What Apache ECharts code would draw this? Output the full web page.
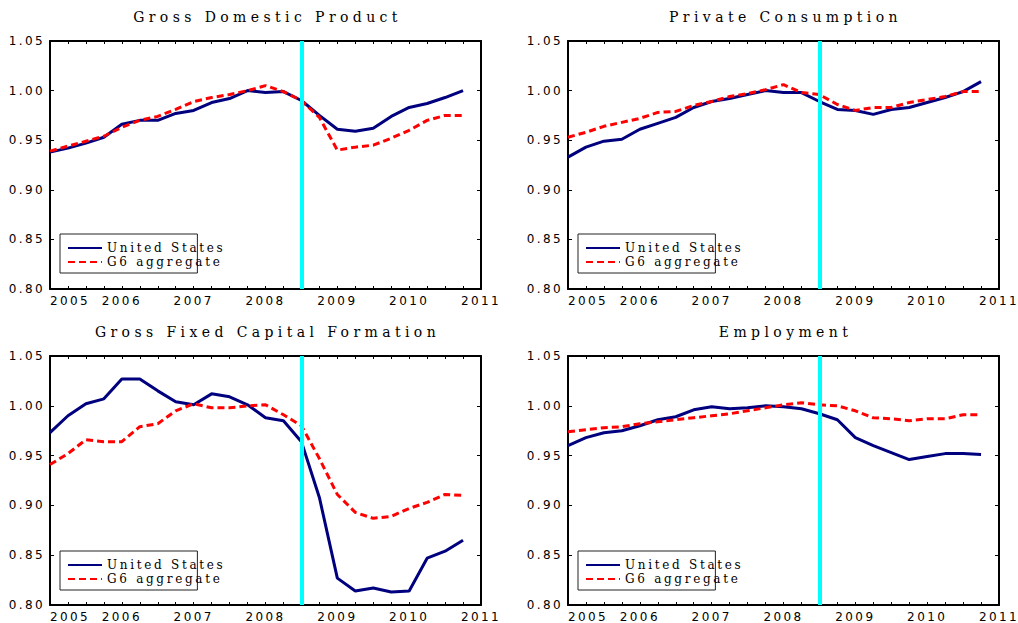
<!DOCTYPE html>
<html>
<head>
<meta charset="utf-8">
<script src="https://cdn.jsdelivr.net/npm/echarts@6.0.0/dist/echarts.min.js"></script>
<style>
	html, body { margin: 0; padding: 0; background: #fff; }
	#chart { width: 1018px; height: 623px; }
</style>
</head>
<body>
<div id="chart"></div>
<script>
// quarterly points, 2005Q1 .. 2010Q4 (plotted at start of quarter)
var quarters = [2005.00, 2005.25, 2005.50, 2005.75, 2006.00, 2006.25, 2006.50, 2006.75,
	2007.00, 2007.25, 2007.50, 2007.75, 2008.00, 2008.25, 2008.50, 2008.75,
	2009.00, 2009.25, 2009.50, 2009.75, 2010.00, 2010.25, 2010.50, 2010.75];

var panelTitles = ['Gross Domestic Product', 'Private Consumption', 'Gross Fixed Capital Formation', 'Employment'];
var seriesNames = ['United States', 'G6 aggregate'];
var yearTicks = [2005, 2006, 2007, 2008, 2009, 2010, 2011];
var valueTicks = [0.80, 0.85, 0.90, 0.95, 1.00, 1.05];
var crisisDate = 2008.5;

var gdpUS = [0.938, 0.942, 0.947, 0.953, 0.966, 0.970, 0.970, 0.977, 0.980, 0.988, 0.992, 1.000,
	0.998, 0.999, 0.990, 0.975, 0.961, 0.959, 0.962, 0.974, 0.983, 0.987, 0.993, 1.000];
var gdpG6 = [0.939, 0.944, 0.949, 0.954, 0.963, 0.970, 0.974, 0.981, 0.989, 0.993, 0.996, 1.000,
	1.005, 0.999, 0.990, 0.973, 0.940, 0.943, 0.945, 0.952, 0.960, 0.970, 0.975, 0.975];

var pcUS = [0.933, 0.943, 0.949, 0.951, 0.961, 0.967, 0.973, 0.983, 0.989, 0.992, 0.996, 1.000,
	0.998, 0.998, 0.989, 0.981, 0.980, 0.976, 0.981, 0.983, 0.988, 0.993, 0.999, 1.009];
var pcG6 = [0.953, 0.958, 0.964, 0.968, 0.972, 0.978, 0.979, 0.985, 0.989, 0.994, 0.997, 1.001,
	1.006, 0.998, 0.996, 0.986, 0.980, 0.983, 0.983, 0.988, 0.991, 0.994, 0.999, 0.999];

var gfcfUS = [0.973, 0.990, 1.002, 1.007, 1.027, 1.027, 1.015, 1.004, 1.001, 1.012, 1.009, 1.001,
	0.988, 0.985, 0.964, 0.908, 0.827, 0.814, 0.817, 0.813, 0.814, 0.847, 0.854, 0.865];
var gfcfG6 = [0.941, 0.952, 0.966, 0.964, 0.964, 0.979, 0.982, 0.995, 1.002, 0.998, 0.998, 1.000,
	1.001, 0.991, 0.980, 0.947, 0.911, 0.893, 0.887, 0.889, 0.897, 0.903, 0.911, 0.910];

var empUS = [0.960, 0.968, 0.973, 0.975, 0.980, 0.986, 0.989, 0.996, 0.999, 0.997, 0.998, 1.000,
	0.999, 0.997, 0.992, 0.986, 0.968, 0.960, 0.953, 0.946, 0.949, 0.952, 0.952, 0.951];
var empG6 = [0.974, 0.976, 0.978, 0.979, 0.982, 0.984, 0.986, 0.988, 0.990, 0.992, 0.995, 0.998,
	1.001, 1.003, 1.001, 1.000, 0.995, 0.988, 0.987, 0.985, 0.987, 0.987, 0.991, 0.991];

var panelData = [[gdpUS, gdpG6], [pcUS, pcG6], [gfcfUS, gfcfG6], [empUS, empG6]];

// grid boxes (px)
var grids = [
	{left: 50, top: 41, width: 431, height: 248},
	{left: 568, top: 41, width: 431, height: 248},
	{left: 50, top: 356, width: 431, height: 250},
	{left: 568, top: 356, width: 431, height: 250}
];

var tickFont = 'DejaVu Sans';
var textFont = 'DejaVu Serif';

function pairs(vals){
	var out = [];
	for (var i = 0; i < vals.length; i++) {
		out.push([quarters[i], vals[i]]);
	}
	return out;
}

var option = {
	animation: false,
	backgroundColor: '#fff',
	title: [],
	legend: [],
	grid: [],
	xAxis: [],
	yAxis: [],
	series: []
};

grids.forEach(function(g, idx){
	option.grid.push({left: g.left, top: g.top, width: g.width, height: g.height, containLabel: false});

	option.title.push({
		text: panelTitles[idx],
		left: g.left + g.width / 2 + 2,
		top: g.top - 31,
		textAlign: 'center',
		padding: 0,
		textStyle: {fontFamily: textFont, fontSize: 14, fontWeight: 'normal', color: '#000'}
	});

	option.legend.push({
		data: seriesNames,
		orient: 'vertical',
		left: g.left + 10,
		top: g.top + g.height - 55,
		padding: [8, 7, 5, 7],
		itemGap: 2,
		itemWidth: 34,
		itemHeight: 13,
		itemTextGap: 7,
		borderColor: '#222',
		borderWidth: 1,
		selectedMode: false,
		itemStyle: {opacity: 0},
		textStyle: {fontFamily: textFont, fontSize: 12, color: '#000', width: 118}
	});

	var axisLine = {show: true, onZero: false, lineStyle: {color: '#000', width: 2}};
	var tick = {show: true, inside: true, length: 4, lineStyle: {color: '#000', width: 1}};

	// bottom + top x axes
	option.xAxis.push({
		type: 'value', gridIndex: idx, position: 'bottom',
		min: yearTicks[0], max: yearTicks[yearTicks.length - 1], interval: 1,
		axisLine: axisLine,
		axisTick: {show: true, inside: true, length: 3, lineStyle: {color: '#000'}},
		minorTick: {show: true, splitNumber: 4, length: 3, lineStyle: {color: '#000'}},
		splitLine: {show: false},
		axisLabel: {
			margin: 6, color: '#000', fontFamily: tickFont, fontSize: 12,
			alignMinLabel: 'left',
			formatter: function(v){ return String(v); }
		}
	});
	option.xAxis.push({
		type: 'value', gridIndex: idx, position: 'top',
		min: yearTicks[0], max: yearTicks[yearTicks.length - 1], interval: 1,
		axisLine: axisLine,
		axisTick: {show: true, inside: true, length: 3, lineStyle: {color: '#000'}},
		minorTick: {show: true, splitNumber: 4, length: 3, lineStyle: {color: '#000'}},
		splitLine: {show: false},
		axisLabel: {show: false}
	});

	// left + right y axes
	option.yAxis.push({
		type: 'value', gridIndex: idx, position: 'left',
		min: valueTicks[0], max: valueTicks[valueTicks.length - 1], interval: 0.05,
		axisLine: axisLine,
		axisTick: tick,
		splitLine: {show: false},
		axisLabel: {
			margin: 5, color: '#000', fontFamily: tickFont, fontSize: 12,
			formatter: function(v){ return v.toFixed(2); }
		}
	});
	option.yAxis.push({
		type: 'value', gridIndex: idx, position: 'right',
		min: valueTicks[0], max: valueTicks[valueTicks.length - 1], interval: 0.05,
		axisLine: axisLine,
		axisTick: tick,
		splitLine: {show: false},
		axisLabel: {show: false}
	});

	option.series.push({
		name: seriesNames[0],
		type: 'line',
		xAxisIndex: idx * 2,
		yAxisIndex: idx * 2,
		data: pairs(panelData[idx][0]),
		symbol: 'none',
		z: 3,
		lineStyle: {color: '#00007f', width: 3},
		itemStyle: {color: '#00007f'},
		emphasis: {disabled: true}
	});
	option.series.push({
		name: seriesNames[1],
		type: 'line',
		xAxisIndex: idx * 2,
		yAxisIndex: idx * 2,
		data: pairs(panelData[idx][1]),
		symbol: 'none',
		z: 4,
		lineStyle: {color: '#ff0000', width: 3, type: [7, 4]},
		itemStyle: {color: '#ff0000'},
		emphasis: {disabled: true},
		markLine: {
			silent: true,
			symbol: ['none', 'none'],
			label: {show: false},
			lineStyle: {color: '#00ffff', width: 4, type: 'solid'},
			emphasis: {disabled: true},
			data: [{xAxis: crisisDate}]
		}
	});
});

var chart = echarts.init(document.getElementById('chart'), null, {renderer: 'svg'});

// old-style plot text is widely spaced; zrender has no letterSpacing so set it on the svg nodes
function spaceTexts(){
	var nodes = document.querySelectorAll('#chart text');
	for (var i = 0; i < nodes.length; i++) {
		var cs = window.getComputedStyle(nodes[i]);
		var fs = parseFloat(cs.fontSize);
		var serif = cs.fontFamily.indexOf('Serif') >= 0;
		var ls = 2.4;
		if (serif) {
			ls = fs >= 14 ? 4.4 : 2.7;
		}
		nodes[i].style.letterSpacing = ls + 'px';
	}
}
chart.on('finished', spaceTexts);
chart.setOption(option);
setTimeout(spaceTexts, 50);
</script>
</body>
</html>
